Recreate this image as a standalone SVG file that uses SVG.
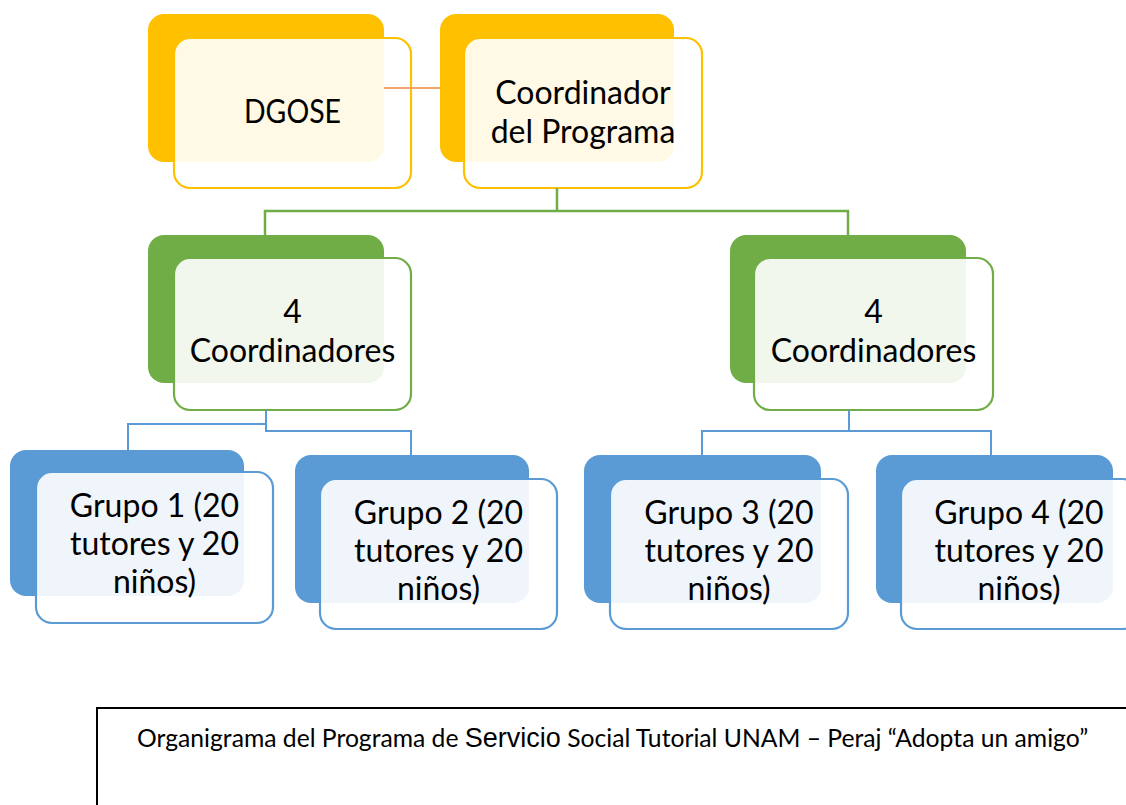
<svg xmlns="http://www.w3.org/2000/svg" width="1126" height="805" viewBox="0 0 1126 805">
<style>
.bk{stroke:none}
.fr{fill:#ffffff;fill-opacity:0.9;stroke-width:2.2}
.y .bk{fill:#FFC000}.y .fr{stroke:#FFC000}
.g .bk{fill:#70AD47}.g .fr{stroke:#70AD47}
.b .bk{fill:#5B9BD5}.b .fr{stroke:#5B9BD5}
.t{font-family:Lato,"Liberation Sans",sans-serif;font-size:32px;fill:#000;text-anchor:middle}
.c{fill:none}
.cap{font-family:Lato,"Liberation Sans",sans-serif;font-size:24.7px;fill:#000}
</style>
<rect width="1126" height="805" fill="#fff"/>
<g id="dgose" class="y">
<rect class="bk" x="148" y="14" width="236" height="148" rx="16"/>
<rect class="fr" x="174" y="38" width="237" height="150" rx="16"/>
<text class="t" x="292.5" y="123" textLength="97" lengthAdjust="spacingAndGlyphs">DGOSE</text>
</g>
<g id="coordinador" class="y">
<rect class="bk" x="440" y="14" width="234" height="148" rx="16"/>
<rect class="fr" x="464" y="38" width="238" height="150" rx="16"/>
<text class="t" x="583" y="104">Coordinador</text>
<text class="t" x="583" y="143">del Programa</text>
</g>
<g id="coord1" class="g">
<rect class="bk" x="148" y="235" width="236" height="148" rx="16"/>
<rect class="fr" x="174" y="258" width="237" height="152" rx="16"/>
<text class="t" x="292.5" y="323">4</text>
<text class="t" x="292.5" y="362">Coordinadores</text>
</g>
<g id="coord2" class="g">
<rect class="bk" x="730" y="235" width="236" height="148" rx="16"/>
<rect class="fr" x="754" y="258" width="239" height="152" rx="16"/>
<text class="t" x="873.5" y="323">4</text>
<text class="t" x="873.5" y="362">Coordinadores</text>
</g>
<g id="grupo1" class="b">
<rect class="bk" x="10" y="450" width="234" height="146" rx="16"/>
<rect class="fr" x="36" y="472" width="237" height="151" rx="16"/>
<text class="t" x="154.5" y="517">Grupo 1 (20</text>
<text class="t" x="154.5" y="555">tutores y 20</text>
<text class="t" x="154.5" y="593">niños)</text>
</g>
<g id="grupo2" class="b">
<rect class="bk" x="295" y="455" width="234" height="148" rx="16"/>
<rect class="fr" x="320" y="479" width="237" height="150" rx="16"/>
<text class="t" x="438.5" y="524">Grupo 2 (20</text>
<text class="t" x="438.5" y="562">tutores y 20</text>
<text class="t" x="438.5" y="600">niños)</text>
</g>
<g id="grupo3" class="b">
<rect class="bk" x="584" y="455" width="237" height="148" rx="16"/>
<rect class="fr" x="610" y="479" width="238" height="150" rx="16"/>
<text class="t" x="729" y="524">Grupo 3 (20</text>
<text class="t" x="729" y="562">tutores y 20</text>
<text class="t" x="729" y="600">niños)</text>
</g>
<g id="grupo4" class="b">
<rect class="bk" x="876" y="455" width="237" height="148" rx="16"/>
<rect class="fr" x="901" y="479" width="238" height="150" rx="16"/>
<text class="t" x="1019" y="524">Grupo 4 (20</text>
<text class="t" x="1019" y="562">tutores y 20</text>
<text class="t" x="1019" y="600">niños)</text>
</g>
<g id="connectors" class="c">
<path d="M384,88 H440" stroke="#F4A26C" stroke-width="2"/>
<path d="M557,188 V211 H265 V235 M557,211 H848 V235" stroke="#70AD47" stroke-width="2.5"/>
<path d="M266,410 V424 H128 V450 M266,424 V431 H411 V455" stroke="#5B9BD5" stroke-width="2"/>
<path d="M849,410 V431 H702 V455 M849,431 H991 V455" stroke="#5B9BD5" stroke-width="2"/>
</g>
<g id="caption">
<rect x="97" y="708" width="1040" height="110" fill="none" stroke="#000" stroke-width="2"/>
<text class="cap" x="137" y="747">Organigrama del Programa de <tspan font-family="Liberation Sans, sans-serif" font-size="27">Servicio</tspan> Social Tutorial UNAM – Peraj “Adopta un amigo”</text>
</g>
</svg>
